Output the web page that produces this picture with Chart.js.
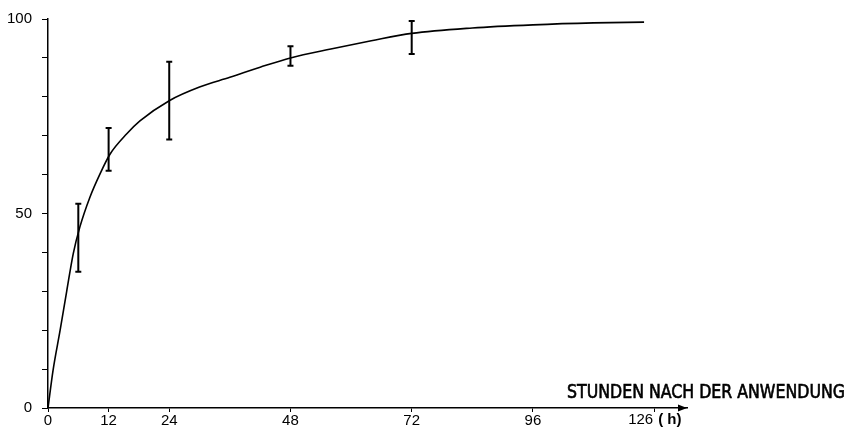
<!DOCTYPE html>
<html>
<head>
<meta charset="utf-8">
<script src="https://cdn.jsdelivr.net/npm/chart.js@4.4.1/dist/chart.umd.min.js"></script>
<style>
  html, body { margin: 0; padding: 0; background: #fff; }
  #wrap { width: 850px; height: 438px; }
</style>
</head>
<body>
<div id="wrap"><canvas id="curveChart" width="850" height="438"></canvas></div>
<script>
// Kurve (Stunden, %)
const curveHours = [0, 1, 2.4, 3.7, 5, 6.3, 8.3, 10.3, 12.3, 15.6, 18.2, 24, 30, 36, 42, 48, 56, 64, 72, 84, 96, 108, 118];
const curveValues = [0, 9.7, 20, 30, 39.7, 46.5, 54.2, 60.2, 65.3, 70.5, 73.8, 79, 82.5, 85, 87.6, 90, 92.3, 94.4, 96.3, 97.7, 98.5, 99, 99.2];

// Streubereiche
const errHours = [6, 12, 24, 48, 72];
const errLow = [35, 61, 69, 88, 91];
const errHigh = [52.5, 72, 89, 93, 99.5];

// Achsenbeschriftung
const xTickValues = [0, 12, 24, 48, 72, 96, 120];
const xTickLabels = ['0', '12', '24', '48', '72', '96', '126'];
const yTickLabels = [0, 50, 100];

const labelFont = { family: "'Liberation Sans', Arial, sans-serif", size: 15 };

const errorBars = {
    id: 'errorBars',
    afterDatasetsDraw(chart) {
        const ctx = chart.ctx;
        const xs = chart.scales.x, ys = chart.scales.y;
        ctx.save();
        ctx.strokeStyle = '#000';
        ctx.lineWidth = 2;
        errHours.forEach((h, i) => {
            const x = xs.getPixelForValue(h);
            const y1 = ys.getPixelForValue(errHigh[i]);
            const y2 = ys.getPixelForValue(errLow[i]);
            ctx.beginPath();
            ctx.moveTo(x, y1); ctx.lineTo(x, y2);
            ctx.moveTo(x - 3, y1); ctx.lineTo(x + 3, y1);
            ctx.moveTo(x - 3, y2); ctx.lineTo(x + 3, y2);
            ctx.stroke();
        });
        ctx.restore();
    }
};

const axisExtras = {
    id: 'axisExtras',
    afterDraw(chart) {
        const ctx = chart.ctx;
        const area = chart.chartArea;
        const xs = chart.scales.x;
        ctx.save();
        // Pfeil am Ende der Zeitachse
        ctx.fillStyle = '#000';
        ctx.beginPath();
        ctx.moveTo(area.right, area.bottom);
        ctx.lineTo(area.right - 9, area.bottom - 3.5);
        ctx.lineTo(area.right - 9, area.bottom + 3.5);
        ctx.closePath();
        ctx.fill();
        // letzte Marke + (h)
        const xl = xs.getPixelForValue(xTickValues[xTickValues.length - 1]);
        ctx.font = "15px 'Liberation Sans', Arial, sans-serif";
        ctx.textBaseline = 'top';
        ctx.textAlign = 'right';
        ctx.fillText(xTickLabels[xTickLabels.length - 1], xl - 1, area.bottom + 4);
        ctx.font = "bold 15px 'Liberation Sans', Arial, sans-serif";
        ctx.textAlign = 'left';
        ctx.fillText('( h)', xl + 4, area.bottom + 4);
        // Achsentitel
        ctx.font = "19px 'DejaVu Sans Condensed', 'Liberation Sans Narrow', sans-serif";
        ctx.textAlign = 'right';
        ctx.textBaseline = 'alphabetic';
        ctx.strokeStyle = '#000';
        ctx.lineWidth = 0.6;
        ctx.fillText('STUNDEN NACH DER ANWENDUNG', 845, 398, 278);
        ctx.strokeText('STUNDEN NACH DER ANWENDUNG', 845, 398, 278);
        ctx.restore();
    }
};

const ctx = document.getElementById('curveChart').getContext('2d');
const curveChart = new Chart(ctx, {
    type: 'scatter',
    data: {
        datasets: [{
            data: curveHours.map((h, i) => ({ x: h, y: curveValues[i] })),
            showLine: true,
            borderColor: '#000',
            borderWidth: 1.6,
            pointRadius: 0,
            cubicInterpolationMode: 'monotone'
        }]
    },
    options: {
        responsive: false,
        animation: false,
        layout: { padding: { left: 0, top: 18, right: 163, bottom: 0 } },
        plugins: { legend: { display: false }, tooltip: { enabled: false } },
        scales: {
            x: {
                type: 'linear',
                min: 0,
                max: 126.5,
                afterFit(scale) { scale.height = 30; },
                afterBuildTicks(scale) { scale.ticks = xTickValues.map(v => ({ value: v })); },
                ticks: {
                    color: '#000',
                    font: labelFont,
                    padding: 0,
                    maxRotation: 0,
                    autoSkip: false,
                    callback: (v, i) => i < xTickLabels.length - 1 ? xTickLabels[i] : ''
                },
                grid: { drawOnChartArea: false, color: '#000', tickLength: 4, lineWidth: 1 },
                border: { color: '#000', width: 1.5 }
            },
            y: {
                min: 0,
                max: 100,
                afterFit(scale) { scale.width = 48; },
                ticks: {
                    stepSize: 10,
                    color: '#000',
                    font: labelFont,
                    padding: 10,
                    callback: v => yTickLabels.includes(v) ? v : ''
                },
                grid: { drawOnChartArea: false, color: '#000', tickLength: 6, lineWidth: 1 },
                border: { color: '#000', width: 1.5 }
            }
        }
    },
    plugins: [errorBars, axisExtras]
});
</script>
</body>
</html>
